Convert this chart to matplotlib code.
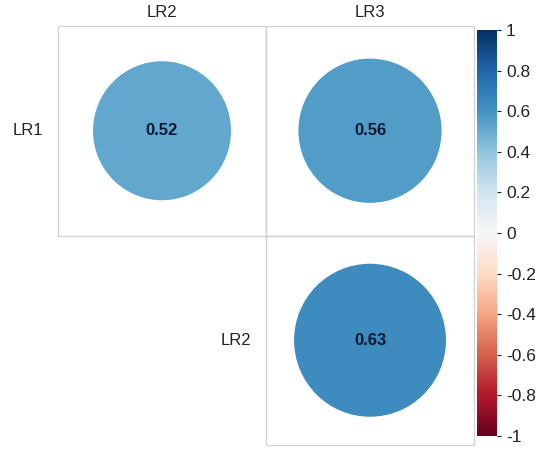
import numpy as np
import matplotlib.pyplot as plt
from matplotlib.patches import Rectangle, Circle
from matplotlib.colors import Normalize
import matplotlib.cm as cm

plt.rcParams['font.family'] = ['Liberation Sans', 'DejaVu Sans']

# date corelatii (triunghi superior)
row_labels = ["LR1", "LR2"]
col_labels = ["LR2", "LR3"]
corr = np.array([[0.52, 0.56],
                 [np.nan, 0.63]])

cmap = plt.get_cmap("RdBu")
norm = Normalize(vmin=-1, vmax=1)

fig = plt.figure(figsize=(5.38, 4.5), dpi=100)
ax = fig.add_axes([58/538, 5/450, 416/538, 419/450])
ax.set_xlim(0, 2)
ax.set_ylim(2, 0)
ax.axis("off")

for i in range(2):
    for j in range(2):
        if np.isnan(corr[i, j]):
            continue
        ax.add_patch(Rectangle((j, i), 1, 1, fill=False, edgecolor="#d3d3d3", lw=1, clip_on=False))
        r = corr[i, j]
        rad = 0.46 * np.sqrt(abs(r))
        ax.add_patch(Circle((j + 0.5, i + 0.5), rad, facecolor=cmap(norm(r)), edgecolor="none"))
        ax.text(j + 0.5, i + 0.5, f"{r:.2f}", ha="center", va="center",
                fontsize=12, fontweight="bold", color="#101830")

# etichete coloane (sus)
for j, lab in enumerate(col_labels):
    ax.text(j + 0.5, -0.03, lab, ha="center", va="bottom", fontsize=12, color="#222222")
# etichete randuri (stanga diagonalei)
for i, lab in enumerate(row_labels):
    ax.text(i - 0.07, i + 0.5, lab, ha="right", va="center", fontsize=12, color="#222222")

# colorbar
cax = fig.add_axes([477/538, 14/450, 20/538, 406/450])
sm = cm.ScalarMappable(norm=norm, cmap=cmap)
cb = fig.colorbar(sm, cax=cax, ticks=np.arange(-1, 1.01, 0.2))
cb.outline.set_visible(False)
cb.ax.set_yticklabels(["-1", "-0.8", "-0.6", "-0.4", "-0.2", "0", "0.2", "0.4", "0.6", "0.8", "1"])
cb.ax.tick_params(labelsize=12.5, length=3, width=0.8, colors="#222222")

fig.savefig("out.png", dpi=100)
